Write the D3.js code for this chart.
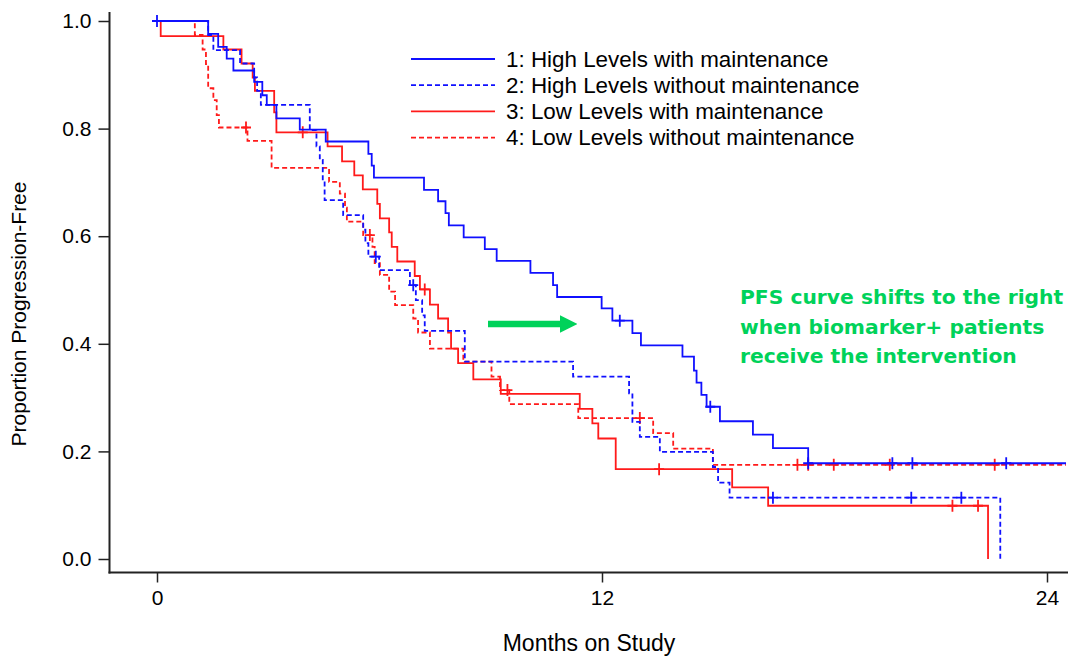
<!DOCTYPE html>
<html>
<head>
<meta charset="utf-8">
<script src="https://cdn.jsdelivr.net/npm/d3@7"></script>
<style>
  body { margin: 0; background: #fff; }
  text { font-family: "Liberation Sans", Arial, sans-serif; fill: #000; }
</style>
</head>
<body>
<div id="chart"></div>
<script>
// step points: [month, proportion after the drop]
var highWith = [[0, 1.0], [1.38, 0.976], [1.65, 0.952], [1.88, 0.930], [2.06, 0.908], [2.62, 0.887],
  [2.84, 0.862], [2.96, 0.844], [3.22, 0.819], [3.85, 0.798], [4.55, 0.776], [5.70, 0.753],
  [5.79, 0.731], [5.85, 0.709], [7.20, 0.686], [7.58, 0.665], [7.78, 0.643], [7.87, 0.620],
  [8.27, 0.598], [8.84, 0.576], [9.16, 0.554], [10.07, 0.532], [10.68, 0.509], [10.79, 0.487],
  [11.99, 0.466], [12.28, 0.443], [12.82, 0.420], [13.05, 0.397], [14.17, 0.376], [14.48, 0.350],
  [14.55, 0.328], [14.68, 0.305], [14.82, 0.283], [15.18, 0.256], [16.07, 0.231], [16.61, 0.206],
  [17.56, 0.178]];
var highWithout = [[0, 1.0], [1.38, 0.974], [1.52, 0.946], [2.24, 0.921], [2.62, 0.895], [2.70, 0.870],
  [2.80, 0.844], [4.12, 0.797], [4.30, 0.767], [4.39, 0.742], [4.47, 0.704], [4.52, 0.667],
  [5.02, 0.639], [5.56, 0.612], [5.62, 0.587], [5.70, 0.562], [5.99, 0.537], [6.82, 0.509],
  [6.98, 0.481], [7.15, 0.453], [7.22, 0.424], [8.30, 0.367], [11.22, 0.339], [12.73, 0.308],
  [12.82, 0.255], [13.02, 0.227], [13.56, 0.199], [14.99, 0.171], [15.13, 0.142], [15.44, 0.114],
  [22.74, 0.0]];
var lowWith = [[0, 1.0], [0.10, 0.972], [1.79, 0.947], [2.28, 0.921], [2.58, 0.895], [2.64, 0.870],
  [3.16, 0.830], [3.22, 0.793], [4.60, 0.767], [4.99, 0.739], [5.32, 0.713], [5.55, 0.687],
  [5.94, 0.660], [6.01, 0.633], [6.26, 0.607], [6.33, 0.580], [6.48, 0.553], [6.95, 0.526],
  [7.09, 0.501], [7.36, 0.473], [7.58, 0.447], [7.85, 0.421], [7.93, 0.391], [8.12, 0.364],
  [8.53, 0.334], [9.27, 0.307], [11.40, 0.279], [11.74, 0.252], [11.90, 0.224], [12.37, 0.167],
  [15.51, 0.133], [16.48, 0.099], [22.41, 0.0]];
var lowWithout = [[0, 1.0], [1.02, 0.974], [1.23, 0.947], [1.32, 0.920], [1.38, 0.875], [1.52, 0.853],
  [1.61, 0.825], [1.67, 0.802], [2.44, 0.777], [3.09, 0.727], [4.64, 0.701], [4.93, 0.679],
  [5.07, 0.653], [5.12, 0.627], [5.56, 0.602], [5.81, 0.580], [5.87, 0.550], [6.01, 0.528],
  [6.26, 0.497], [6.42, 0.472], [6.91, 0.447], [7.04, 0.421], [7.36, 0.391], [8.26, 0.367],
  [9.02, 0.339], [9.25, 0.314], [9.50, 0.288], [11.36, 0.262], [13.38, 0.234], [13.92, 0.205],
  [14.99, 0.175]];

// censored observations (months)
var highWithCens = [0, 12.48, 14.92, 17.56, 19.83, 20.37, 22.90];
var highWithoutCens = [5.90, 6.91, 16.61, 20.34, 21.69];
var lowWithCens = [3.93, 7.22, 13.54, 21.45, 22.14];
var lowWithoutCens = [2.40, 5.74, 9.45, 13.02, 17.27, 17.56, 18.25, 19.76, 22.59];

var legendLabels = ["1: High Levels with maintenance", "2: High Levels without maintenance",
  "3: Low Levels with maintenance", "4: Low Levels without maintenance"];
var xTicks = [0, 12, 24];
var yTicks = [0, 0.2, 0.4, 0.6, 0.8, 1.0];
var note = ["PFS curve shifts to the right", "when biomarker+ patients", "receive the intervention"];

var W = 1068, H = 658;
var blue = "#1010ff", red = "#ff1a1a", green = "#00d25a";

var svg = d3.select("#chart").append("svg")
    .attr("width", W)
    .attr("height", H);

var x = d3.scaleLinear().domain([0, 24]).range([157, 1047]);
var y = d3.scaleLinear().domain([0, 1]).range([559, 21]);
var endMonth = x.invert(1066);

var series = [
  { steps: highWith, cens: highWithCens, color: blue, dash: null },
  { steps: highWithout, cens: highWithoutCens, color: blue, dash: "5,3" },
  { steps: lowWith, cens: lowWithCens, color: red, dash: null },
  { steps: lowWithout, cens: lowWithoutCens, color: red, dash: "5,3" }
];

// axes
var axisX = 109.5, axisY = 572.5;
svg.append("line").attr("x1", axisX).attr("x2", axisX).attr("y1", 12).attr("y2", axisY + 1)
    .attr("stroke", "#222").attr("stroke-width", 2);
svg.append("line").attr("x1", axisX - 1).attr("x2", W).attr("y1", axisY).attr("y2", axisY)
    .attr("stroke", "#222").attr("stroke-width", 2);

var gy = svg.append("g")
    .attr("transform", "translate(" + axisX + ",0)")
    .call(d3.axisLeft(y).tickValues(yTicks).tickFormat(d3.format(".1f")).tickSize(11).tickPadding(7));
gy.select(".domain").remove();
gy.selectAll("line").attr("stroke", "#222").attr("stroke-width", 1.5);
gy.selectAll("text").style("font-size", "21px").attr("font-family", null);

var gx = svg.append("g")
    .attr("transform", "translate(0," + axisY + ")")
    .call(d3.axisBottom(x).tickValues(xTicks).tickSize(10).tickPadding(8));
gx.select(".domain").remove();
gx.selectAll("line").attr("stroke", "#222").attr("stroke-width", 1.5);
gx.selectAll("text").style("font-size", "21px").attr("font-family", null);

svg.append("text")
    .attr("text-anchor", "middle")
    .style("font-size", "23px")
    .attr("x", 589)
    .attr("y", 651)
    .text("Months on Study");

svg.append("text")
    .attr("text-anchor", "middle")
    .style("font-size", "21px")
    .attr("transform", "translate(26,314) rotate(-90)")
    .text("Proportion Progression-Free");

// curves
var line = d3.line()
    .x(function (d) { return x(d[0]); })
    .y(function (d) { return y(d[1]); })
    .curve(d3.curveStepAfter);

var bis = d3.bisector(function (d) { return d[0]; }).right;

series.slice().reverse().forEach(function (s) {
  var pts = s.steps.slice();
  var last = pts[pts.length - 1];
  if (last[1] > 0) pts.push([endMonth, last[1]]);

  svg.append("path")
      .datum(pts)
      .attr("fill", "none")
      .attr("stroke", s.color)
      .attr("stroke-width", 1.8)
      .attr("stroke-dasharray", s.dash)
      .attr("d", line);

  s.cens.forEach(function (t) {
    var p = s.steps[bis(s.steps, t) - 1][1];
    var cx = x(t), cy = y(p);
    svg.append("path")
        .attr("d", "M" + (cx - 5) + "," + cy + "H" + (cx + 5) + "M" + cx + "," + (cy - 6) + "V" + (cy + 6))
        .attr("stroke", s.color)
        .attr("stroke-width", 1.8)
        .attr("fill", "none");
  });
});

// legend
var legend = svg.append("g");
series.forEach(function (s, i) {
  var ly = 59 + i * 26.2;
  legend.append("line")
      .attr("x1", 411).attr("x2", 495)
      .attr("y1", ly).attr("y2", ly)
      .attr("stroke", s.color)
      .attr("stroke-width", 1.8)
      .attr("stroke-dasharray", s.dash);
  legend.append("text")
      .attr("x", 506)
      .attr("y", ly + 7.5)
      .style("font-size", "22.4px")
      .text(legendLabels[i]);
});

// annotation
var defs = svg.append("defs");
defs.append("marker")
    .attr("id", "head")
    .attr("viewBox", "0 0 10 10")
    .attr("refX", 0).attr("refY", 5)
    .attr("markerWidth", 2.6).attr("markerHeight", 2.6)
    .attr("markerUnits", "strokeWidth")
    .attr("orient", "auto")
    .append("path")
    .attr("d", "M0,0L10,5L0,10Z")
    .attr("fill", green);

svg.append("line")
    .attr("x1", 488).attr("x2", 560)
    .attr("y1", 324).attr("y2", 324)
    .attr("stroke", green)
    .attr("stroke-width", 6.7)
    .attr("marker-end", "url(#head)");

svg.append("g").selectAll("text")
    .data(note)
    .join("text")
    .attr("x", 740)
    .attr("y", function (d, i) { return 304 + i * 29.5; })
    .style("font-family", "'DejaVu Sans', Verdana, sans-serif")
    .style("font-weight", "bold")
    .style("font-size", "20.3px")
    .style("fill", green)
    .text(function (d) { return d; });
</script>
</body>
</html>
